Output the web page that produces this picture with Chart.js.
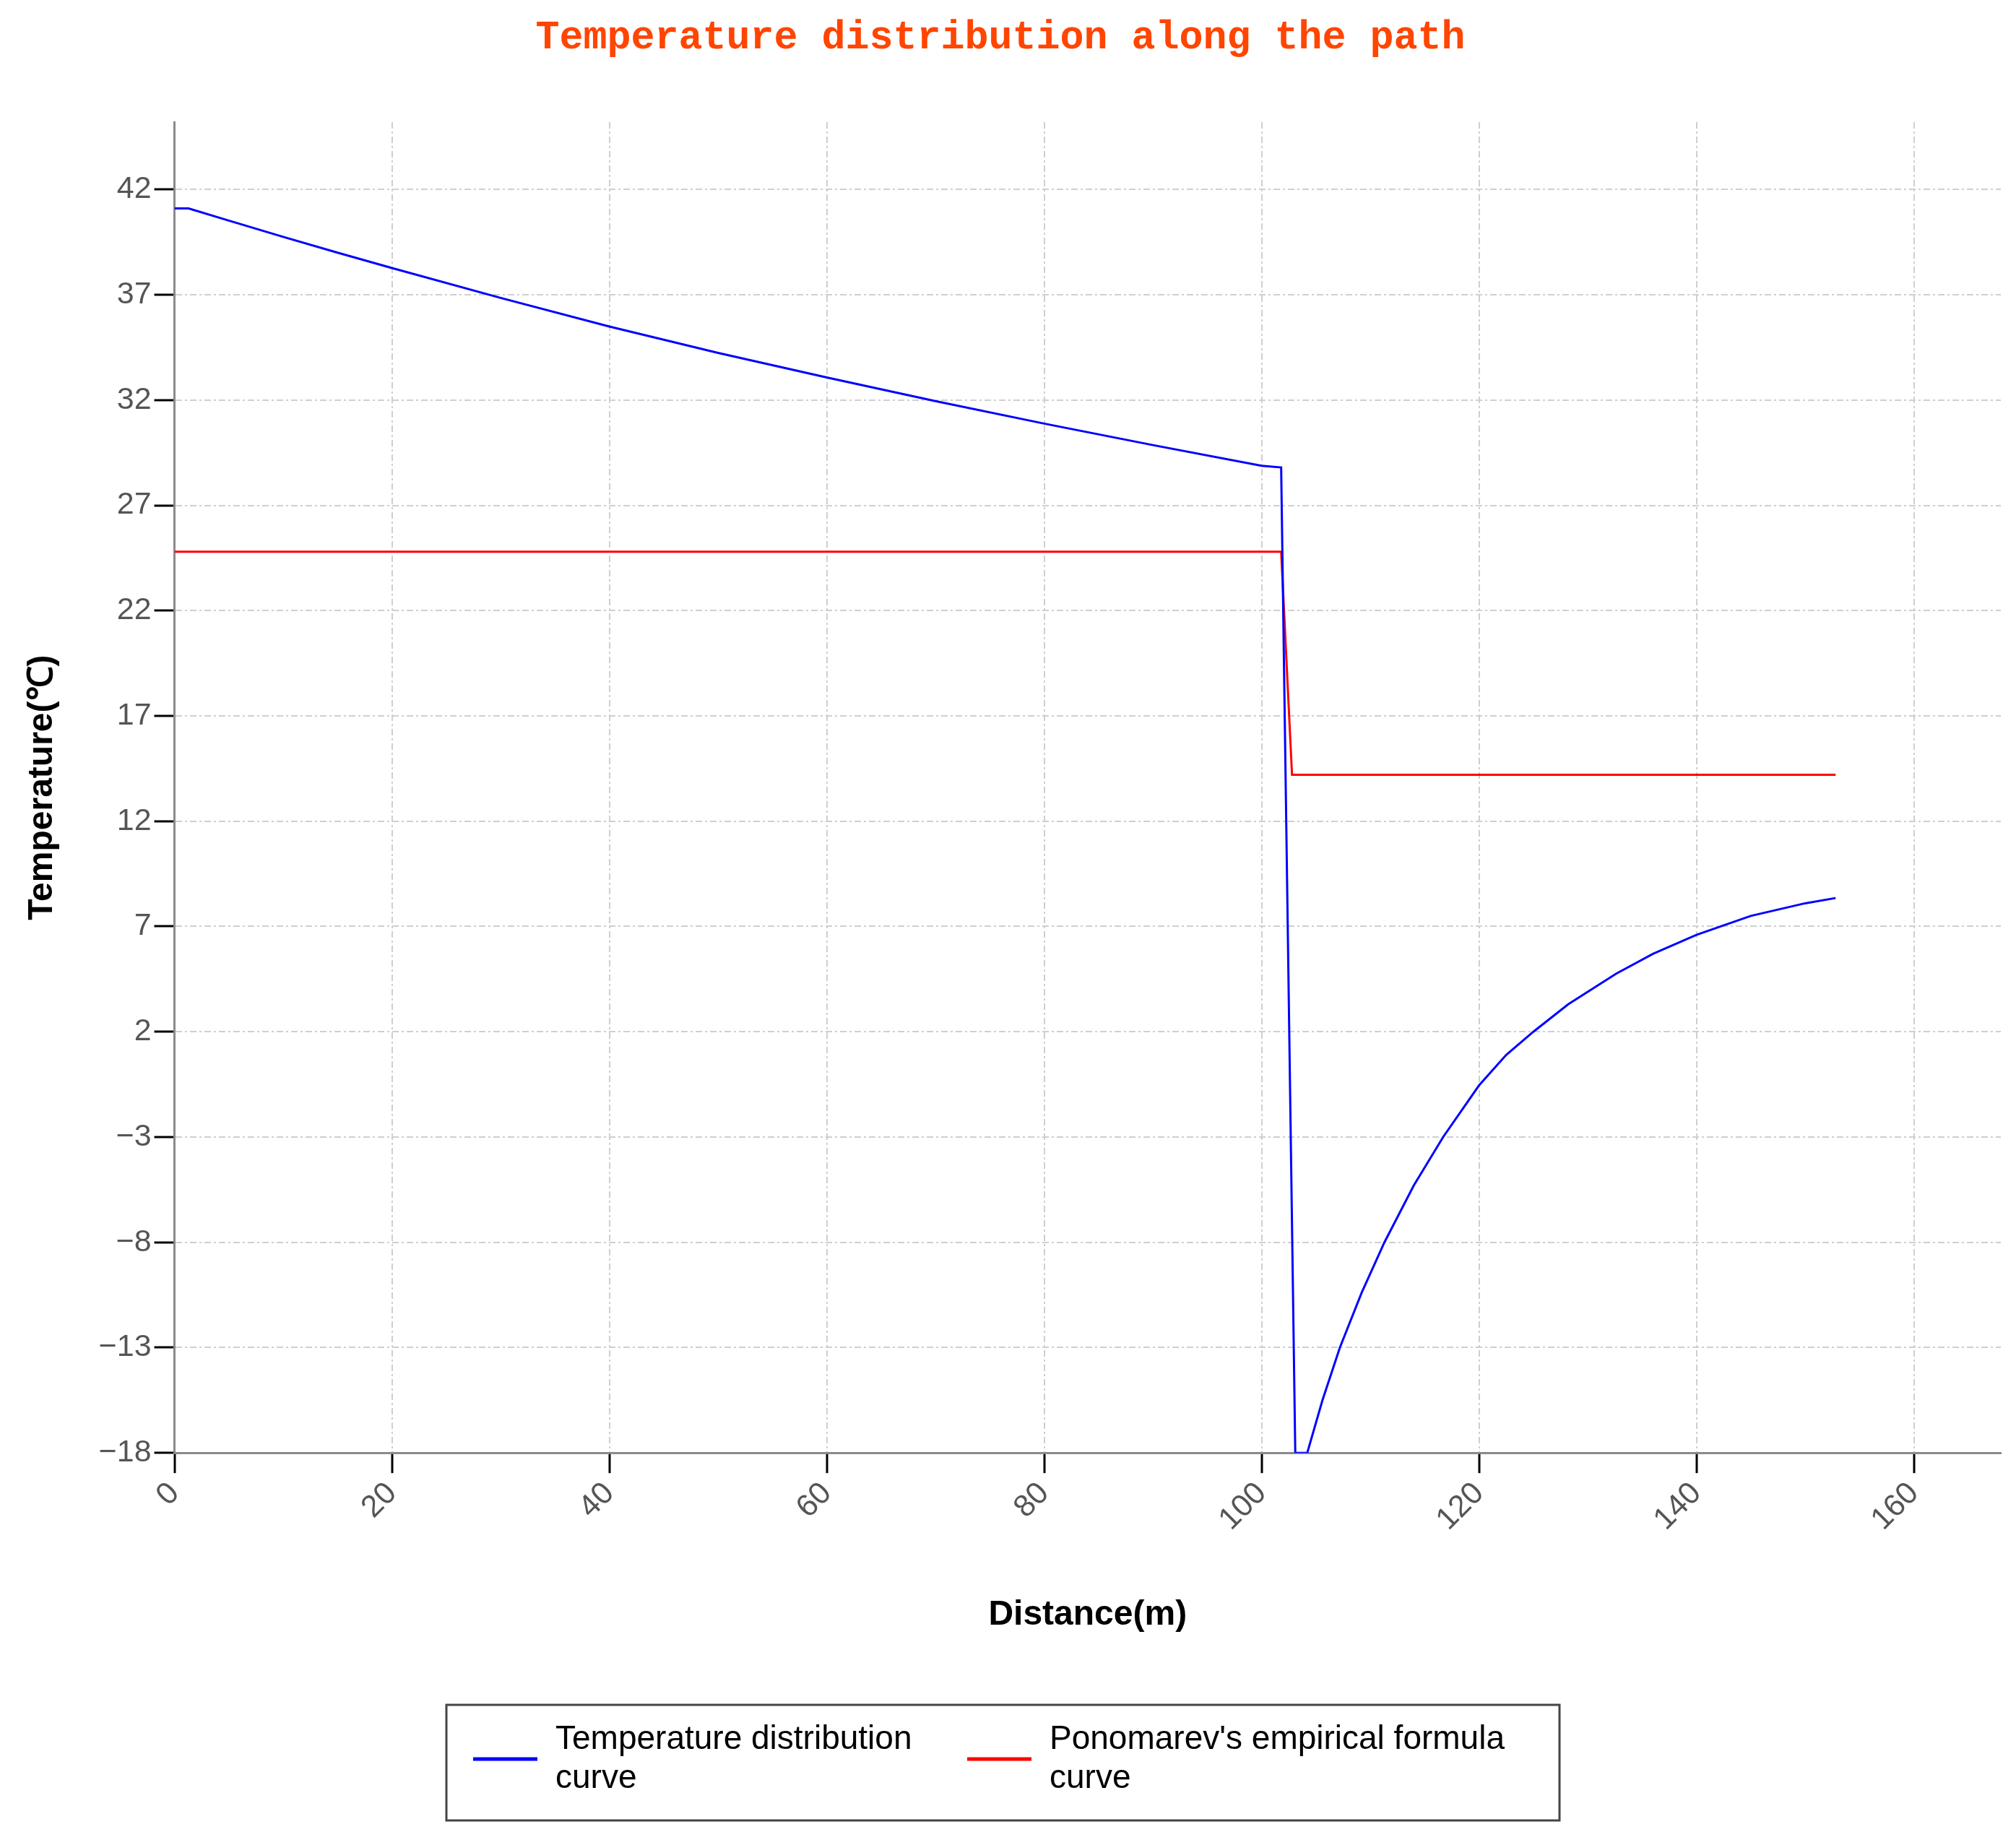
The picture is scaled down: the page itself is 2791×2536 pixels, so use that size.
<!DOCTYPE html>
<html>
<head>
<meta charset="utf-8">
<title>Temperature distribution along the path</title>
<script src="https://cdn.jsdelivr.net/npm/chart.js@4.4.1/dist/chart.umd.min.js"></script>
<style>
  html, body { margin: 0; padding: 0; background: #fff; }
</style>
</head>
<body>
<canvas id="tempChart" width="2791" height="2536"></canvas>
<script>
// distance along the path (m) and temperature (℃)
const distBlue = [0, 1.3, 5, 10, 15, 20, 30, 40, 50, 60, 70, 80, 90, 100, 101.8,
    103.1, 104.2, 105.6, 107.2, 109.2, 111.3, 114, 116.7, 120, 122.5, 125, 128.2,
    132.6, 136, 140, 145, 150, 152.8];
const tempBlue = [41.1, 41.1, 40.52, 39.75, 39.0, 38.27, 36.85, 35.49, 34.24, 33.07,
    31.95, 30.88, 29.86, 28.88, 28.8, -18, -18, -15.5, -13, -10.4, -8, -5.3, -3, -0.55,
    0.9, 2, 3.3, 4.75, 5.7, 6.6, 7.5, 8.1, 8.35];
const distRed = [0, 101.8, 102.8, 152.8];
const tempRed = [24.8, 24.8, 14.2, 14.2];

const xTicks = [0, 20, 40, 60, 80, 100, 120, 140, 160];
const yTicks = [-18, -13, -8, -3, 2, 7, 12, 17, 22, 27, 32, 37, 42];

const seriesNames = ['Temperature distribution curve', "Ponomarev's empirical formula curve"];

function toPoints(xs, ys) {
    return xs.map((x, i) => ({ x: x, y: ys[i] }));
}

// legend drawn as a framed box with wrapped labels, like the original
const boxLegend = {
    id: 'boxLegend',
    afterDraw(chart) {
        const ctx = chart.ctx;
        const left = 618, top = 2360, w = 1541, h = 160;
        const colStart = [37, 721];
        const colWidth = [684, 783];
        ctx.save();
        ctx.lineWidth = 3;
        ctx.strokeStyle = '#444';
        ctx.strokeRect(left, top, w, h);
        ctx.font = '46px "Liberation Sans", Arial, sans-serif';
        ctx.textBaseline = 'middle';
        ctx.fillStyle = '#000';
        chart.data.datasets.forEach((ds, i) => {
            const x0 = left + colStart[i];
            const midY = top + 75;
            ctx.strokeStyle = ds.borderColor;
            ctx.lineWidth = 5;
            ctx.beginPath();
            ctx.moveTo(x0, midY);
            ctx.lineTo(x0 + 89, midY);
            ctx.stroke();
            // wrap words to the column
            const maxW = colWidth[i] - 114 - 30;
            const lines = [];
            let cur = '';
            ds.label.split(' ').forEach(word => {
                const test = cur ? cur + ' ' + word : word;
                if (cur && ctx.measureText(test).width > maxW) {
                    lines.push(cur);
                    cur = word;
                } else {
                    cur = test;
                }
            });
            lines.push(cur);
            lines.forEach((ln, j) => {
                ctx.fillText(ln, x0 + 114, top + 48 + j * 54);
            });
        });
        ctx.restore();
    }
};

const gridDash = [9, 4, 3, 4];

new Chart(document.getElementById('tempChart'), {
    type: 'line',
    data: {
        datasets: [{
            label: seriesNames[0],
            data: toPoints(distBlue, tempBlue),
            borderColor: '#0000ff',
            backgroundColor: '#0000ff',
            borderWidth: 3,
            pointRadius: 0,
            tension: 0
        }, {
            label: seriesNames[1],
            data: toPoints(distRed, tempRed),
            borderColor: '#ff0000',
            backgroundColor: '#ff0000',
            borderWidth: 3,
            pointRadius: 0,
            tension: 0
        }]
    },
    options: {
        responsive: false,
        animation: false,
        layout: { padding: { left: 0, right: 21, top: 0, bottom: 261 } },
        plugins: {
            legend: { display: false },
            tooltip: { enabled: false },
            title: {
                display: true,
                text: 'Temperature distribution along the path',
                color: '#ff4500',
                font: { family: '"Liberation Mono", monospace', size: 55, weight: 'bold' },
                padding: { top: 20, bottom: 83 }
            }
        },
        scales: {
            x: {
                type: 'linear',
                min: 0,
                max: 168,
                afterBuildTicks: scale => { scale.ticks = xTicks.map(v => ({ value: v })); },
                ticks: {
                    autoSkip: false,
                    minRotation: 45,
                    maxRotation: 45,
                    padding: 3,
                    color: '#555',
                    font: { family: '"Liberation Sans", Arial, sans-serif', size: 43 }
                },
                grid: {
                    color: '#cfcfcf',
                    lineWidth: 2,
                    tickLength: 28,
                    tickColor: '#000',
                    tickWidth: 3
                },
                border: { color: '#8a8a8a', width: 3, dash: gridDash },
                title: {
                    display: true,
                    text: 'Distance(m)',
                    color: '#000',
                    font: { family: '"Liberation Sans", Arial, sans-serif', size: 48, weight: 'bold' },
                    padding: { top: 75, bottom: 10 }
                }
            },
            y: {
                type: 'linear',
                min: -18,
                max: 45.2,
                afterBuildTicks: scale => { scale.ticks = yTicks.map(v => ({ value: v })); },
                ticks: {
                    padding: 4,
                    color: '#555',
                    font: { family: '"Liberation Sans", Arial, sans-serif', size: 43 },
                    callback: v => String(v).replace('-', '\u2212')
                },
                grid: {
                    color: '#cfcfcf',
                    lineWidth: 2,
                    tickLength: 28,
                    tickColor: '#000',
                    tickWidth: 3
                },
                border: { color: '#8a8a8a', width: 3, dash: gridDash },
                title: {
                    display: true,
                    text: 'Temperature(℃)',
                    color: '#000',
                    font: { family: '"Liberation Sans", Arial, sans-serif', size: 48, weight: 'bold' },
                    padding: { top: 30, bottom: 45 }
                }
            }
        }
    },
    plugins: [boxLegend]
});
</script>
</body>
</html>
